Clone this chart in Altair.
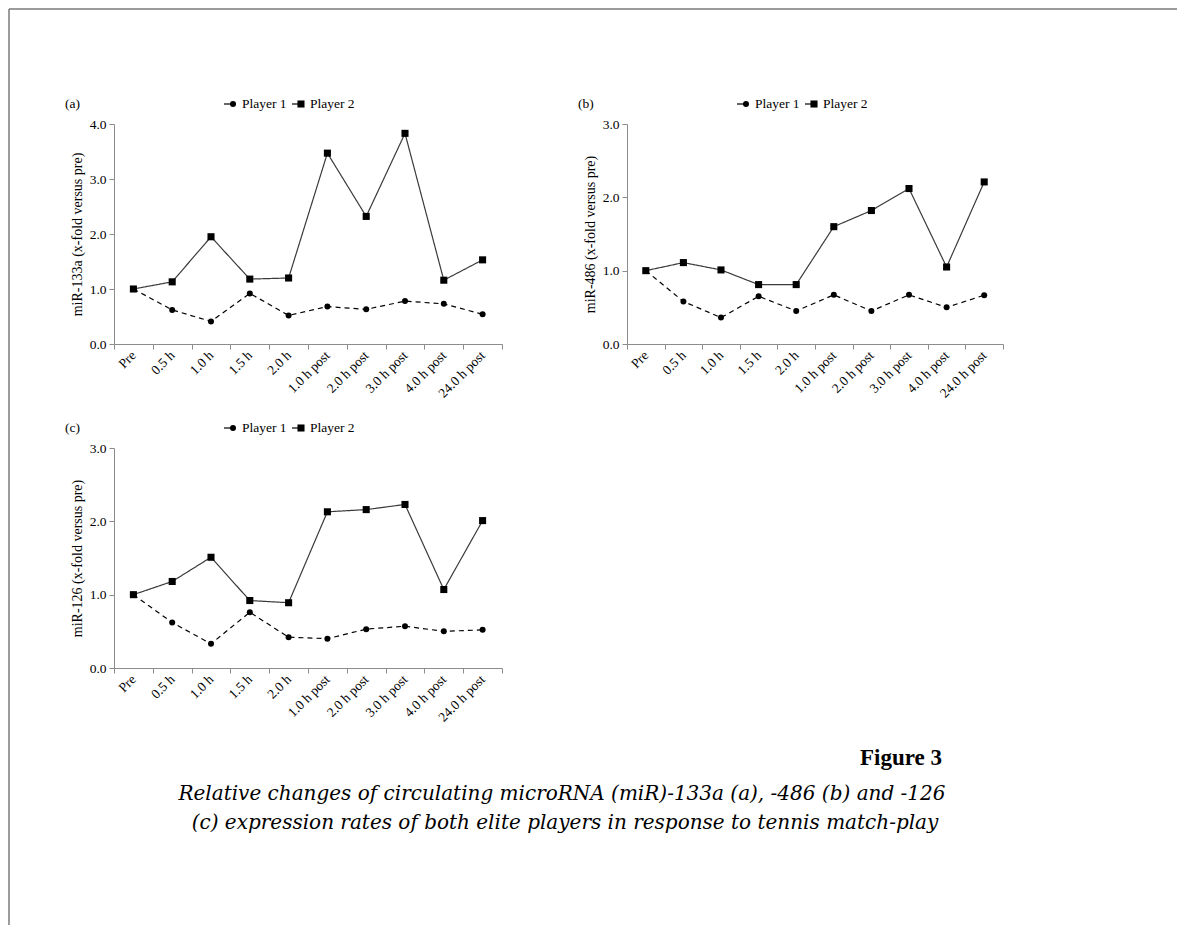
import altair as alt
import pandas as pd

# ---------------- data ----------------
TIMES = ["Pre", "0.5 h", "1.0 h", "1.5 h", "2.0 h",
         "1.0 h post", "2.0 h post", "3.0 h post", "4.0 h post", "24.0 h post"]
PLAYERS = ["Player 1", "Player 2"]

A_P1 = [1.00, 0.62, 0.41, 0.92, 0.52, 0.68, 0.63, 0.78, 0.73, 0.54]
A_P2 = [1.00, 1.13, 1.95, 1.18, 1.20, 3.47, 2.32, 3.83, 1.16, 1.53]
B_P1 = [1.00, 0.58, 0.36, 0.65, 0.45, 0.67, 0.45, 0.67, 0.50, 0.665]
B_P2 = [1.00, 1.11, 1.01, 0.81, 0.81, 1.60, 1.82, 2.12, 1.05, 2.21]
C_P1 = [1.00, 0.62, 0.33, 0.76, 0.42, 0.40, 0.53, 0.57, 0.50, 0.52]
C_P2 = [1.00, 1.18, 1.51, 0.92, 0.89, 2.13, 2.16, 2.23, 1.07, 2.01]

Y_TITLES = ["miR-133a (x-fold versus pre)", "miR-486 (x-fold versus pre)", "miR-126 (x-fold versus pre)"]
LETTERS = ["(a)", "(b)", "(c)"]
CAPTION_TITLE = ["Figure 3"]
CAPTION_LINE1 = ["Relative changes of circulating microRNA (miR)-133a (a), -486 (b) and -126"]
CAPTION_LINE2 = ["(c) expression rates of both elite players in response to tennis match-play"]

FONT = "Liberation Serif"
CAP_FONT = "DejaVu Serif"

# legend styling (positions relative to each panel's plot area)
LEG_STUB_X = [110, 178]
LEG_MARK_X = [119, 187]
LEG_TEXT_X = [128, 196]
LEG_Y = -20
LEG_SHAPES = ["circle", "square"]
LEG_SIZES = [36, 50]


def legend_layers():
    out = []
    for i, name in enumerate(PLAYERS):
        one = pd.DataFrame({"t": [name]})
        out.append(alt.Chart(one).mark_rule(color="black", strokeWidth=1.2).encode(
            x=alt.value(LEG_STUB_X[i]), x2=alt.value(LEG_MARK_X[i]), y=alt.value(LEG_Y)))
        out.append(alt.Chart(one).mark_point(
            filled=True, opacity=1, color="black", shape=LEG_SHAPES[i], size=LEG_SIZES[i]
        ).encode(x=alt.value(LEG_MARK_X[i]), y=alt.value(LEG_Y)))
        out.append(alt.Chart(one).mark_text(
            font=FONT, fontSize=13.5, align="left", baseline="middle", color="black"
        ).encode(text="t:N", x=alt.value(LEG_TEXT_X[i]), y=alt.value(LEG_Y)))
    return out


def make_panel(letter, ytitle, p1, p2, ymax, width, extra=()):
    df = pd.DataFrame({
        "time": TIMES + TIMES,
        "player": [PLAYERS[0]] * len(TIMES) + [PLAYERS[1]] * len(TIMES),
        "value": p1 + p2,
    })
    x = alt.X("time:N", sort=TIMES, bandPosition=0.5,
              scale=alt.Scale(type="band", paddingInner=0, paddingOuter=0),
              axis=alt.Axis(title=None, labelAngle=-45, labelAlign="right",
                            labelBaseline="middle", tickBand="extent", labelPadding=4))
    y = alt.Y("value:Q", scale=alt.Scale(domain=[0, ymax], nice=False, zero=True),
              axis=alt.Axis(title=ytitle, values=list(range(ymax + 1)), format=".1f",
                            grid=False, titlePadding=5, labelPadding=3))
    base = alt.Chart(df)
    lines = base.mark_line(strokeWidth=1.2).encode(
        x=x, y=y,
        color=alt.Color("player:N", scale=alt.Scale(domain=PLAYERS, range=["#000000", "#3a3a3a"]),
                        legend=None),
        strokeDash=alt.StrokeDash("player:N", scale=alt.Scale(domain=PLAYERS, range=[[5, 4], [1, 0]]),
                                  legend=None),
    )
    pts1 = base.transform_filter(alt.datum.player == PLAYERS[0]).mark_point(
        filled=True, opacity=1, color="black", shape="circle", size=36).encode(x=x, y=y)
    pts2 = base.transform_filter(alt.datum.player == PLAYERS[1]).mark_point(
        filled=True, opacity=1, color="black", shape="square", size=50).encode(x=x, y=y)
    lab = alt.Chart(pd.DataFrame({"t": [letter]})).mark_text(
        font=FONT, fontSize=13.5, align="left", baseline="middle", color="black"
    ).encode(text="t:N", x=alt.value(-49), y=alt.value(-20))
    return alt.layer(lines, pts1, pts2, lab, *legend_layers(), *extra).properties(
        width=width, height=220)


# caption and frame, placed relative to panel (c)
cap_title = alt.Chart(pd.DataFrame({"t": CAPTION_TITLE})).mark_text(
    font=FONT, fontSize=23, fontWeight="bold", align="right", baseline="middle", color="black"
).encode(text="t:N", x=alt.value(828), y=alt.value(310))
cap_l1 = alt.Chart(pd.DataFrame({"t": CAPTION_LINE1})).mark_text(
    font=CAP_FONT, fontSize=20, fontStyle="italic", align="center", baseline="middle", color="black"
).encode(text="t:N", x=alt.value(448), y=alt.value(346))
cap_l2 = alt.Chart(pd.DataFrame({"t": CAPTION_LINE2})).mark_text(
    font=CAP_FONT, fontSize=20, fontStyle="italic", align="center", baseline="middle", color="black"
).encode(text="t:N", x=alt.value(451), y=alt.value(375))
frame_top = alt.Chart(pd.DataFrame({"k": [0]})).mark_rule(color="#7a7a7a", strokeWidth=1.5).encode(
    x=alt.value(-105), x2=alt.value(1063), y=alt.value(-439))
frame_left = alt.Chart(pd.DataFrame({"k": [0]})).mark_rule(color="#7a7a7a", strokeWidth=1.5).encode(
    x=alt.value(-105), y=alt.value(-439), y2=alt.value(477))

pa = make_panel(LETTERS[0], Y_TITLES[0], A_P1, A_P2, 4, 388)
pb = make_panel(LETTERS[1], Y_TITLES[1], B_P1, B_P2, 3, 376)
pc = make_panel(LETTERS[2], Y_TITLES[2], C_P1, C_P2, 3, 388,
                extra=(cap_title, cap_l1, cap_l2, frame_top, frame_left))

chart = alt.concat(pa, pb, pc, columns=2, bounds="flush",
                   spacing={"row": 104, "column": 125}).properties(
    padding=0, background="white"
).configure_view(strokeWidth=0).configure_axis(
    labelFont=FONT, labelFontSize=13.5, labelColor="black",
    titleFont=FONT, titleFontSize=14, titleFontWeight="normal", titleColor="black",
    domainColor="#8c8c8c", tickColor="#8c8c8c", tickSize=5, domainWidth=1,
)

chart.save("out.html", embed_options={"renderer": "svg", "actions": False})
